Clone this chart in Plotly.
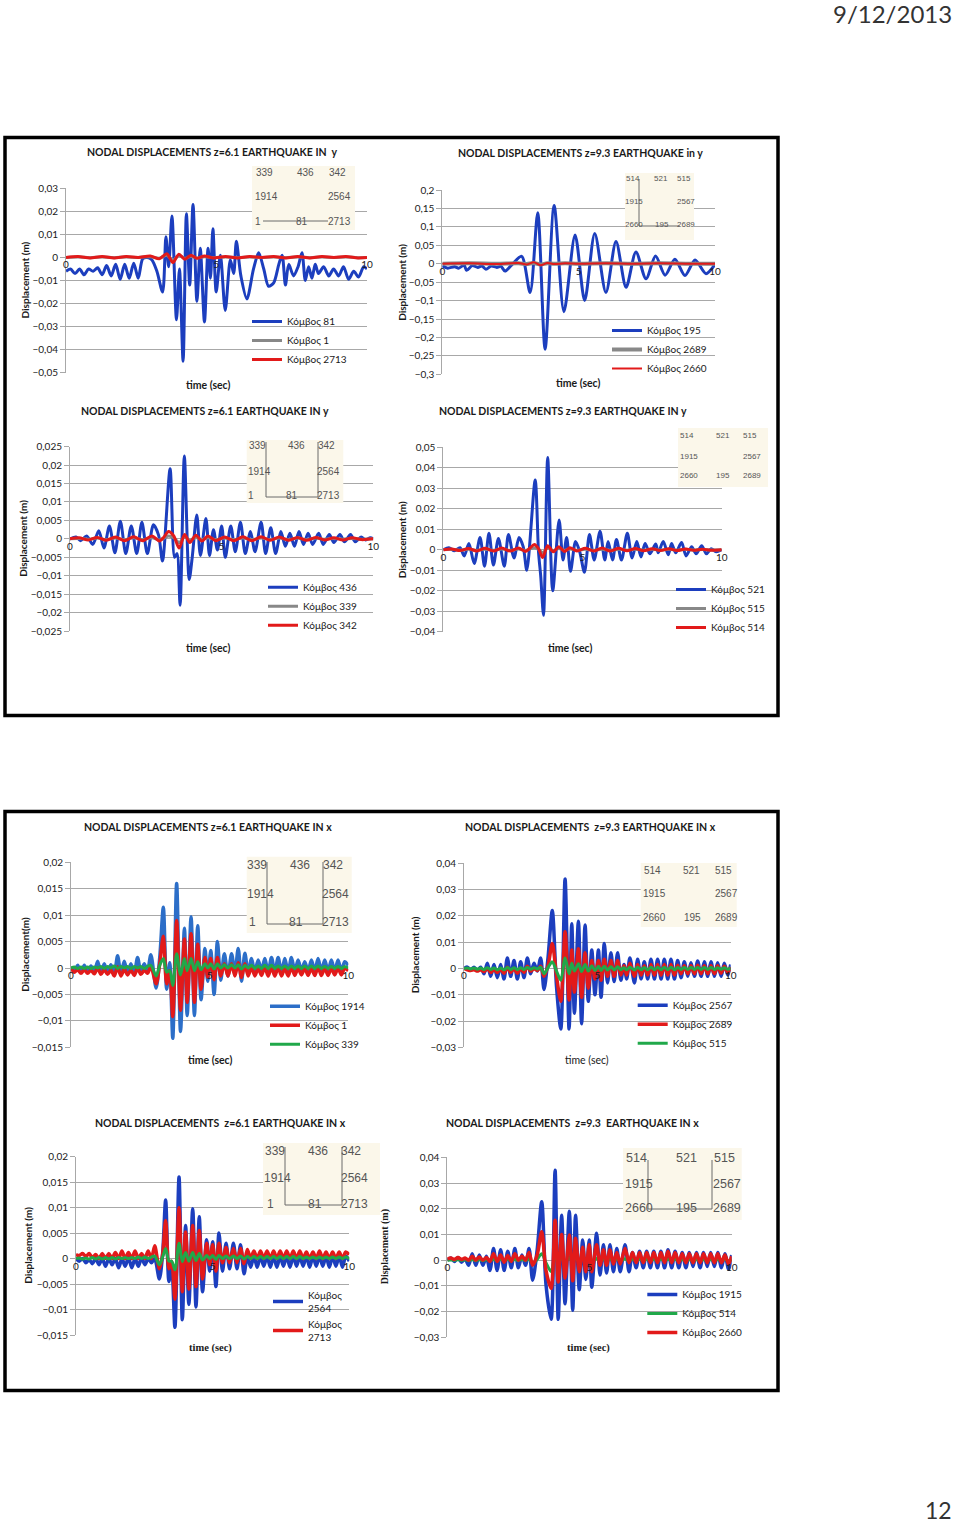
import plotly.graph_objects as go

# ---------------- DATA ----------------
# Chart 1: z=6.1, earthquake in y
T1_81 = [0, 0.15, 0.3, 0.45, 0.6, 0.75, 0.9, 1.05, 1.2, 1.35, 1.5, 1.65, 1.8, 1.95, 2.1, 2.25, 2.4, 2.55, 2.7, 2.85,
         3.02, 3.21, 3.32, 3.41, 3.52, 3.67, 3.77, 3.89, 4.0, 4.11, 4.22, 4.35, 4.46, 4.6, 4.72, 4.8, 4.88, 4.99, 5.13, 5.29,
         5.46, 5.57, 5.66, 5.81, 6.01, 6.23, 6.4, 6.57, 6.73, 6.9, 7.07, 7.18, 7.29, 7.4, 7.56, 7.71, 7.84, 7.95, 8.06, 8.17,
         8.28, 8.39, 8.56, 8.73, 8.89, 9.06, 9.22, 9.39, 9.56, 9.72, 9.89, 10]
V1_81 = [-0.006, -0.005, -0.007, -0.005, -0.0075, -0.005, -0.006, -0.0045, -0.0075, -0.0035, -0.008, -0.003, -0.0095, -0.003, -0.009, -0.0025, -0.009, -0.0005, 0.0, -0.001,
         -0.006, -0.015, 0.009, -0.004, 0.018, -0.027, -0.005, -0.045, 0.019, -0.012, 0.023, -0.019, 0.004, -0.028, 0.004, -0.009, 0.0125, -0.015, 0.001, -0.023,
         -0.001, -0.007, 0.007, -0.008, -0.018, -0.005, 0.002, -0.005, -0.0125, -0.011, -0.003, 0.001, -0.012, -0.003, -0.008, -0.004, 0.002, -0.01, -0.004, -0.009,
         -0.003, -0.007, -0.004, -0.008, -0.005, -0.008, -0.004, -0.0095, -0.006, -0.0085, -0.004, -0.005]
T1_SMALL = [0, 0.4, 0.8, 1.2, 1.6, 2.0, 2.4, 2.8, 3.1, 3.35, 3.55, 3.75, 3.95, 4.15, 4.35, 4.6, 4.9, 5.3, 5.7, 6.1,
            6.5, 6.9, 7.3, 7.7, 8.1, 8.5, 8.9, 9.3, 9.7, 10]
V1_1 = [0, 0.0002, -0.0001, 0.0002, -0.0001, 0.0002, 0.0, 0.0003, -0.0003, 0.001, -0.0012, 0.0008, -0.0004, 0.0005, -0.0002, 0.0003, -0.0001, 0.0002, -0.0001, 0.0002,
        0.0, 0.0002, -0.0001, 0.0002, -0.0001, 0.0002, 0.0, 0.0002, -0.0001, 0.0]
V1_2713 = [0, 0.0004, -0.0002, 0.0004, -0.0002, 0.0004, 0.0, 0.0006, -0.0006, 0.0016, -0.0022, 0.0014, -0.0008, 0.001, -0.0004, 0.0006, -0.0002, 0.0004, -0.0002, 0.0004,
           0.0, 0.0004, -0.0002, 0.0004, -0.0002, 0.0004, 0.0, 0.0004, -0.0002, 0.0]

# Chart 2: z=9.3, earthquake in y
T2_195 = [0, 0.2, 0.45, 0.6, 0.8, 0.89, 1.1, 1.3, 1.45, 1.6, 1.8, 2.0, 2.15, 2.3, 2.55, 2.91, 3.22, 3.5, 3.77, 4.1,
          4.46, 4.87, 5.22, 5.59, 6.0, 6.37, 6.74, 7.1, 7.47, 7.82, 8.17, 8.53, 8.9, 9.27, 9.67, 10]
V2_195 = [-0.006, -0.012, -0.008, -0.012, -0.004, -0.018, -0.005, -0.01, -0.006, -0.015, -0.006, -0.01, -0.007, -0.02, -0.003, 0.02, -0.078, 0.138, -0.232, 0.158,
          -0.13, 0.078, -0.1, 0.082, -0.078, 0.06, -0.064, 0.032, -0.041, 0.021, -0.031, 0.012, -0.032, 0.01, -0.027, -0.002]
T2_SMALL = [0, 1, 2, 2.8, 3.1, 3.35, 3.6, 3.85, 4.1, 4.5, 5, 6, 7, 8, 9, 10]
V2_2689 = [0, 0.001, 0, 0.001, -0.001, 0.002, -0.002, 0.001, 0, 0.001, 0, 0.001, 0, 0.001, 0, 0]
V2_2660 = [0, 0.001, -0.001, 0.002, -0.002, 0.004, -0.004, 0.002, -0.001, 0.001, 0, 0.001, 0, 0.001, 0, 0]

# Chart 3: z=6.1, earthquake in y
T3_436 = [0, 0.2, 0.35, 0.55, 0.75, 0.95, 1.12, 1.3, 1.48, 1.66, 1.84, 2.02, 2.2, 2.37, 2.55, 2.75, 2.92, 3.05, 3.3, 3.45,
          3.53, 3.63, 3.77, 3.93, 4.03, 4.18, 4.3, 4.48, 4.6, 4.73, 4.86, 5.0, 5.12, 5.3, 5.45, 5.62, 5.78, 5.95, 6.1, 6.3,
          6.45, 6.62, 6.78, 6.95, 7.1, 7.25, 7.4, 7.55, 7.7, 7.85, 8.0, 8.2, 8.35, 8.55, 8.7, 8.9, 9.05, 9.25, 9.4, 9.6,
          9.75, 9.9, 10]
V3_436 = [0, 0.0005, -0.0005, 0.0008, -0.0015, 0.0022, -0.0025, 0.0035, -0.0038, 0.0048, -0.004, 0.0035, -0.004, 0.0045, -0.004, 0.0038, 0.001, -0.006, 0.019, -0.005,
          -0.004, -0.018, 0.0225, -0.011, -0.005, 0.0065, -0.0045, 0.0055, -0.0045, 0.0025, -0.003, 0.0035, -0.005, 0.0035, -0.0035, 0.0045, -0.004, 0.002, -0.0035, 0.0045,
          -0.004, 0.003, -0.004, 0.002, -0.002, 0.0015, -0.002, 0.002, -0.0015, 0.0015, -0.0015, 0.0015, -0.0015, 0.0012, -0.001, 0.0012, -0.0008, 0.0012, -0.0008, 0.0005,
          -0.0003, 0.0003, 0]
T3_SMALL = [0, 0.3, 0.6, 0.9, 1.2, 1.5, 1.8, 2.1, 2.4, 2.7, 2.95, 3.1, 3.25, 3.42, 3.6, 3.78, 3.95, 4.15, 4.35, 4.55,
            4.8, 5.1, 5.4, 5.7, 6.0, 6.3, 6.6, 6.9, 7.2, 7.5, 7.8, 8.1, 8.4, 8.7, 9.0, 9.3, 9.6, 10]
V3_339 = [0, 0.0001, -0.0001, 0.0002, -0.0002, 0.0002, -0.0002, 0.0003, -0.0002, 0.0003, -0.0003, 0.0002, 0.0008, 0.0003, -0.001, 0.0005, -0.0004, 0.0004, -0.0002, 0.0003,
          -0.0002, 0.0002, -0.0002, 0.0002, -0.0002, 0.0002, -0.0002, 0.0002, -0.0002, 0.0002, -0.0002, 0.0002, -0.0001, 0.0001, -0.0001, 0.0001, -0.0001, 0]
V3_342 = [0, 0.0003, -0.0003, 0.0004, -0.0004, 0.0005, -0.0005, 0.0006, -0.0005, 0.0008, -0.0006, 0.0005, 0.002, 0.0008, -0.0025, 0.0012, -0.001, 0.001, -0.0006, 0.0008,
          -0.0005, 0.0005, -0.0005, 0.0006, -0.0005, 0.0006, -0.0004, 0.0005, -0.0004, 0.0004, -0.0004, 0.0004, -0.0003, 0.0003, -0.0003, 0.0003, -0.0002, 0]

# Chart 4: z=9.3, earthquake in y
T4_521 = [0, 0.2, 0.4, 0.6, 0.75, 0.92, 1.11, 1.32, 1.48, 1.64, 1.8, 1.98, 2.19, 2.34, 2.54, 2.72, 2.87, 3.0, 3.3, 3.42,
          3.5, 3.6, 3.75, 3.93, 4.16, 4.3, 4.43, 4.57, 4.75, 4.9, 5.07, 5.25, 5.42, 5.63, 5.8, 5.92, 6.08, 6.22, 6.4, 6.61,
          6.78, 6.95, 7.1, 7.25, 7.42, 7.63, 7.72, 7.9, 8.08, 8.2, 8.35, 8.56, 8.72, 8.92, 9.08, 9.28, 9.45, 9.62, 9.8, 10]
V4_521 = [0, 0.001, -0.0005, 0.001, -0.003, 0.003, -0.0067, 0.006, -0.008, 0.008, -0.0075, 0.0055, -0.008, 0.0075, -0.004, 0.006, 0.0015, -0.01, 0.034, -0.001,
          -0.013, -0.032, 0.045, -0.02, 0.0145, -0.005, 0.006, -0.0105, 0.004, -0.001, -0.011, 0.0075, -0.005, 0.009, -0.005, 0.004, -0.005, 0.005, -0.005, 0.008,
          -0.004, 0.004, -0.0035, 0.003, -0.002, 0.0028, -0.0015, 0.004, -0.0025, 0.003, -0.0015, 0.0035, -0.003, 0.0015, -0.002, 0.002, -0.002, 0.0005, -0.001, 0]
T4_SMALL = [0, 0.3, 0.6, 0.9, 1.2, 1.5, 1.8, 2.1, 2.4, 2.7, 2.95, 3.1, 3.27, 3.42, 3.57, 3.75, 3.95, 4.15, 4.35, 4.55,
            4.8, 5.1, 5.4, 5.7, 6.0, 6.3, 6.6, 6.9, 7.2, 7.5, 7.8, 8.1, 8.4, 8.7, 9.0, 9.3, 9.6, 10]
V4_515 = [0, 0.0002, -0.0002, 0.0003, -0.0003, 0.0003, -0.0003, 0.0004, -0.0003, 0.0004, -0.0004, 0.0003, 0.001, 0.0002, -0.0015, 0.0008, -0.0004, 0.0006, -0.0003, 0.0004,
          -0.0003, 0.0003, -0.0003, 0.0003, -0.0003, 0.0003, -0.0002, 0.0003, -0.0002, 0.0002, -0.0002, 0.0002, -0.0002, 0.0002, -0.0001, 0.0001, -0.0001, 0]
V4_514 = [0, 0.0004, -0.0004, 0.0006, -0.0006, 0.0007, -0.0006, 0.0008, -0.0006, 0.0008, -0.0008, 0.0006, 0.0025, 0.0005, -0.0038, 0.002, -0.001, 0.0015, -0.0008, 0.001,
          -0.0006, 0.0007, -0.0006, 0.0008, -0.0006, 0.0007, -0.0005, 0.0006, -0.0005, 0.0005, -0.0004, 0.0005, -0.0004, 0.0004, -0.0003, 0.0003, -0.0002, 0]

# Chart 5: z=6.1, earthquake in x
T5 = [0, 0.12, 0.24, 0.36, 0.48, 0.6, 0.72, 0.84, 0.96, 1.08, 1.2, 1.32, 1.44, 1.56, 1.68, 1.8, 1.92, 2.04, 2.16, 2.28, 2.4, 2.52, 2.64, 2.76, 2.88,
      3.07, 3.2, 3.33, 3.45, 3.56, 3.67, 3.81, 3.95, 4.09, 4.19, 4.33, 4.45, 4.57, 4.69, 4.83, 4.93, 5.04, 5.16, 5.28, 5.4, 5.53, 5.66, 5.79, 5.91, 6.03, 6.15, 6.27, 6.39,
      6.51, 6.63, 6.75, 6.87, 6.99, 7.11, 7.23, 7.35, 7.47, 7.59, 7.71, 7.83, 7.95, 8.07, 8.19, 8.31, 8.43, 8.55, 8.67, 8.79, 8.91, 9.03, 9.15, 9.27, 9.39, 9.51, 9.63, 9.75, 9.87, 10.0]
V5_1914 = [0, -0.0005, 0.0005, -0.0008, 0.0005, -0.0008, 0.0004, -0.0008, 0.0013, -0.001, 0.0008, -0.001, 0.0006, -0.0012, 0.0023, -0.0012, 0.0013, -0.001, 0.0008, -0.0012, 0.002, -0.0008, 0.0008, -0.0005, 0.0025,
           -0.0038, 0.002, 0.0115, -0.004, 0.001, -0.0133, 0.016, -0.012, 0.0075, -0.009, 0.0097, -0.009, 0.008, -0.006, 0.0037, -0.0025, 0.0033, -0.005, 0.005, -0.0023, 0.0027, -0.0015, 0.0027, -0.001, 0.0037, -0.0025, 0.0028, -0.001,
           0.0018, -0.0008, 0.0015, -0.0005, 0.0018, -0.0008, 0.002, -0.0008, 0.002, -0.0008, 0.0018, -0.0008, 0.002, -0.0006, 0.0015, -0.0005, 0.0012, -0.0006, 0.0015, -0.0006, 0.0018, -0.0006, 0.0015, -0.0006, 0.0015, -0.0006, 0.0015, -0.0006, 0.0012, 0.0005]
V5_1 = [0, -0.0008, -0.0003, -0.001, -0.0003, -0.001, -0.0004, -0.0011, 0.0, -0.0012, -0.0003, -0.0012, -0.0004, -0.0015, 0.0002, -0.0015, -0.0002, -0.0013, -0.0004, -0.0014, 0.0, -0.0012, -0.0004, -0.001, 0.0003,
        -0.003, 0.0008, 0.006, -0.003, -0.0005, -0.0092, 0.009, -0.008, 0.0055, -0.0065, 0.0065, -0.0065, 0.0045, -0.004, 0.002, -0.0017, 0.0018, -0.0022, 0.002, -0.0015, 0.0008, -0.0015, 0.0008, -0.0015, 0.001, -0.0018, 0.0008, -0.0015,
        0.0002, -0.0015, 0.0, -0.0014, 0.0002, -0.0015, 0.0002, -0.0015, 0.0002, -0.0015, 0.0, -0.0015, 0.0002, -0.0014, 0.0, -0.0013, 0.0, -0.0014, 0.0, -0.0014, 0.0002, -0.0014, 0.0, -0.0014, 0.0, -0.0013, 0.0, -0.0013, 0.0, -0.0005]
V5_339 = [0, 0.0002, -0.0001, 0.0002, -0.0001, 0.0002, -0.0001, 0.0002, 0.0, 0.0003, -0.0001, 0.0003, 0.0, 0.0004, -0.0001, 0.0003, 0.0, 0.0003, -0.0001, 0.0003, 0.0, 0.0003, -0.0001, 0.0003, 0.0005,
          -0.0015, 0.0005, 0.0018, -0.0008, -0.0005, -0.0033, 0.0027, -0.0013, 0.0018, -0.0005, 0.0018, -0.0005, 0.0012, -0.0003, 0.0008, 0.0, 0.0008, -0.0002, 0.0008, 0.0, 0.0006, 0.0, 0.0006, 0.0, 0.0006, -0.0002, 0.0005, 0.0,
          0.0005, -0.0001, 0.0004, -0.0001, 0.0005, -0.0001, 0.0005, -0.0001, 0.0004, -0.0001, 0.0004, -0.0001, 0.0004, -0.0001, 0.0004, -0.0001, 0.0004, -0.0001, 0.0004, -0.0001, 0.0004, -0.0001, 0.0003, -0.0001, 0.0003, -0.0001, 0.0003, -0.0001, 0.0003, 0.0]

# Chart 6: z=9.3, earthquake in x
T6 = [0, 0.125, 0.25, 0.375, 0.5, 0.625, 0.75, 0.875, 1.0, 1.125, 1.25, 1.375, 1.5, 1.625, 1.75, 1.875, 2.0, 2.125, 2.25, 2.375, 2.5, 2.625, 2.75, 2.875,
      3.0, 3.15, 3.31, 3.47, 3.63, 3.79, 3.94, 4.04, 4.14, 4.29, 4.41, 4.54, 4.66, 4.79, 4.91, 5.04, 5.14, 5.26, 5.38, 5.51, 5.63, 5.76, 5.88, 6.0, 6.1, 6.22, 6.39,
      6.51, 6.64, 6.76, 6.89, 7.01, 7.14, 7.26, 7.39, 7.51, 7.64, 7.76, 7.89, 8.01, 8.14, 8.26, 8.39, 8.51, 8.64, 8.76, 8.89, 9.01, 9.14, 9.26, 9.39, 9.51, 9.64, 9.76, 9.89, 10.0]
V6_2567 = [0, 0.0005, -0.0005, 0.0005, -0.0008, 0.0005, -0.002, 0.002, -0.003, 0.0015, -0.0035, 0.0015, -0.004, 0.004, -0.003, 0.003, -0.004, 0.0025, -0.0035, 0.004, -0.002, 0.002, -0.001, 0.004,
           -0.008, 0.004, 0.022, -0.007, -0.023, 0.034, -0.023, 0.017, -0.017, 0.018, -0.021, 0.0165, -0.0125, 0.007, -0.01, 0.007, -0.011, 0.0095, -0.0055, 0.006, -0.005, 0.006, -0.0045, 0.0015, -0.004, 0.004, -0.0055,
           0.0035, -0.004, 0.0025, -0.004, 0.0035, -0.004, 0.0035, -0.004, 0.0035, -0.004, 0.0035, -0.004, 0.003, -0.0035, 0.0025, -0.003, 0.0022, -0.003, 0.0028, -0.003, 0.0025, -0.003, 0.0025, -0.003, 0.0022, -0.003, 0.002, -0.0025, 0.0015]
V6_2689 = [0, -0.0005, -0.0008, -0.0005, -0.001, -0.0005, -0.0012, 0.0, -0.0015, -0.0003, -0.0015, -0.0003, -0.0018, 0.0005, -0.0015, 0.0, -0.0018, 0.0, -0.0015, 0.0008, -0.001, 0.0, -0.0008, 0.0008,
           -0.003, 0.001, 0.0095, -0.003, -0.0125, 0.014, -0.012, 0.007, -0.009, 0.0075, -0.011, 0.006, -0.0075, 0.003, -0.004, 0.003, -0.0045, 0.0035, -0.003, 0.003, -0.003, 0.003, -0.0025, 0.001, -0.0025, 0.002, -0.003,
           0.0015, -0.0025, 0.001, -0.0025, 0.0015, -0.0025, 0.0015, -0.0025, 0.0015, -0.0025, 0.0015, -0.0025, 0.0012, -0.002, 0.001, -0.002, 0.001, -0.002, 0.0012, -0.002, 0.001, -0.002, 0.001, -0.002, 0.001, -0.0018, 0.0008, -0.0015, 0.0005]
V6_515 = [0, 0.0002, -0.0002, 0.0002, -0.0003, 0.0002, -0.0004, 0.0003, -0.0004, 0.0002, -0.0005, 0.0002, -0.0005, 0.0004, -0.0004, 0.0003, -0.0005, 0.0003, -0.0004, 0.0004, -0.0003, 0.0003, -0.0002, 0.0005,
          -0.002, 0.0003, 0.0025, -0.001, -0.0045, 0.004, -0.002, 0.002, -0.001, 0.0018, -0.0012, 0.0015, -0.001, 0.001, -0.0008, 0.0008, -0.0008, 0.0008, -0.0006, 0.0006, -0.0006, 0.0006, -0.0005, 0.0003, -0.0005, 0.0005, -0.0006,
          0.0005, -0.0005, 0.0004, -0.0005, 0.0005, -0.0005, 0.0005, -0.0005, 0.0005, -0.0005, 0.0005, -0.0005, 0.0004, -0.0004, 0.0004, -0.0004, 0.0004, -0.0004, 0.0004, -0.0004, 0.0004, -0.0004, 0.0004, -0.0004, 0.0003, -0.0003, 0.0003, -0.0003, 0.0002]

# Chart 7: z=6.1, earthquake in x
T7 = [0, 0.12, 0.24, 0.36, 0.48, 0.6, 0.72, 0.84, 0.96, 1.08, 1.2, 1.32, 1.44, 1.56, 1.68, 1.8, 1.92, 2.04, 2.16, 2.28, 2.4, 2.52, 2.64, 2.76, 2.88,
      3.05, 3.17, 3.28, 3.4, 3.5, 3.62, 3.77, 3.89, 4.01, 4.13, 4.27, 4.39, 4.51, 4.63, 4.78, 4.89, 5.0, 5.12, 5.23, 5.36, 5.49, 5.62, 5.76, 5.89, 6.02, 6.15, 6.27, 6.39,
      6.51, 6.63, 6.75, 6.87, 6.99, 7.11, 7.23, 7.35, 7.47, 7.59, 7.71, 7.83, 7.95, 8.07, 8.19, 8.31, 8.43, 8.55, 8.67, 8.79, 8.91, 9.03, 9.15, 9.27, 9.39, 9.51, 9.63, 9.75, 9.87, 10.0]
V7_2564 = [0, -0.0005, 0.0, -0.0008, -0.0002, -0.001, 0.0, -0.0012, 0.0, -0.0015, 0.0, -0.0012, 0.0, -0.0018, 0.0, -0.0015, 0.0002, -0.0018, 0.0, -0.0015, 0.0002, -0.0012, 0.0, -0.0008, 0.0,
           -0.004, 0.001, 0.0115, -0.0045, -0.001, -0.0135, 0.016, -0.012, 0.0065, -0.009, 0.0098, -0.0095, 0.0082, -0.0065, 0.0037, -0.0025, 0.0033, -0.0055, 0.005, -0.0025, 0.003, -0.002, 0.003, -0.002, 0.0027, -0.003, 0.0005, -0.0017,
           0.0005, -0.0017, 0.0005, -0.0015, 0.0005, -0.0017, 0.0005, -0.0017, 0.0005, -0.0015, 0.0005, -0.0017, 0.0005, -0.0015, 0.0005, -0.0015, 0.0005, -0.0017, 0.0005, -0.0015, 0.0005, -0.0015, 0.0005, -0.0017, 0.0005, -0.0015, 0.0005, -0.0017, 0.0005, -0.0005]
V7_2713 = [0.0008, 0.0006, 0.001, 0.0004, 0.001, 0.0002, 0.0008, 0.0, 0.001, 0.0, 0.001, 0.0, 0.0012, 0.0, 0.0015, 0.0, 0.0012, 0.0, 0.0015, 0.0, 0.001, 0.0, 0.0015, 0.0, 0.0025,
           -0.002, 0.0008, 0.0075, -0.002, -0.0005, -0.008, 0.01, -0.0065, 0.0052, -0.006, 0.0065, -0.0055, 0.0055, -0.004, 0.003, -0.0012, 0.0027, -0.0025, 0.003, -0.0008, 0.0022, -0.0008, 0.002, -0.0008, 0.002, -0.001, 0.0018, 0.0,
           0.0015, 0.0, 0.0015, 0.0, 0.0015, 0.0, 0.0015, 0.0, 0.0015, 0.0, 0.0015, 0.0, 0.0015, 0.0, 0.0015, 0.0, 0.0013, 0.0, 0.0013, 0.0, 0.0015, 0.0, 0.0013, 0.0, 0.0013, 0.0, 0.0013, 0.0, 0.0013, 0.0008]
V7_GREEN = [0.0, 0.0001, -0.0001, 0.0001, -0.0001, 0.0002, -0.0001, 0.0002, -0.0001, 0.0002, -0.0001, 0.0002, -0.0001, 0.0002, 0.0, 0.0002, 0.0, 0.0002, 0.0, 0.0003, 0.0, 0.0003, 0.0, 0.0003, 0.0005,
            -0.0012, 0.0003, 0.002, -0.0005, -0.0005, -0.0022, 0.003, -0.0006, 0.0012, -0.0005, 0.0012, -0.0004, 0.001, -0.0003, 0.0006, 0.0, 0.0006, -0.0002, 0.0006, 0.0, 0.0005, 0.0, 0.0005, 0.0, 0.0005, -0.0001, 0.0004, 0.0,
            0.0004, 0.0, 0.0004, 0.0, 0.0004, 0.0, 0.0004, 0.0, 0.0004, 0.0, 0.0004, 0.0, 0.0004, 0.0, 0.0004, 0.0, 0.0003, 0.0, 0.0003, 0.0, 0.0003, 0.0, 0.0003, 0.0, 0.0003, 0.0, 0.0003, 0.0, 0.0003, 0.0]

# Chart 8: z=9.3, earthquake in x
T8 = [0, 0.125, 0.25, 0.375, 0.5, 0.625, 0.75, 0.875, 1.0, 1.125, 1.25, 1.375, 1.5, 1.625, 1.75, 1.875, 2.0, 2.125, 2.25, 2.375, 2.5, 2.625, 2.75, 2.875,
      3.0, 3.16, 3.32, 3.47, 3.65, 3.79, 3.9, 4.02, 4.14, 4.29, 4.41, 4.51, 4.64, 4.76, 4.87, 4.99, 5.08, 5.25, 5.37, 5.49, 5.6, 5.72, 5.84, 5.96, 6.08, 6.25, 6.39,
      6.51, 6.64, 6.76, 6.89, 7.01, 7.14, 7.26, 7.39, 7.51, 7.64, 7.76, 7.89, 8.01, 8.14, 8.26, 8.39, 8.51, 8.64, 8.76, 8.89, 9.01, 9.14, 9.26, 9.39, 9.51, 9.64, 9.76, 9.89, 10.0]
V8_1915 = [0, 0.0008, -0.0005, 0.001, -0.0008, 0.0005, -0.002, 0.0025, -0.002, 0.002, -0.002, 0.0015, -0.004, 0.0045, -0.004, 0.004, -0.004, 0.0035, -0.003, 0.0045, -0.003, 0.002, -0.002, 0.0045,
           -0.0078, 0.004, 0.0227, -0.0095, -0.023, 0.035, -0.023, 0.0175, -0.017, 0.019, -0.0195, 0.0175, -0.0115, 0.0078, -0.0075, 0.0078, -0.0105, 0.0105, -0.0058, 0.006, -0.005, 0.006, -0.0045, 0.0045, -0.0045, 0.006, -0.0045,
           0.003, -0.003, 0.0035, -0.003, 0.0035, -0.003, 0.0035, -0.003, 0.0035, -0.003, 0.004, -0.003, 0.0035, -0.003, 0.003, -0.003, 0.003, -0.0025, 0.003, -0.003, 0.003, -0.0025, 0.003, -0.0025, 0.003, -0.003, 0.0025, -0.0035, 0.002]
V8_514 = [0, 0.0001, -0.0001, 0.0002, -0.0001, 0.0002, -0.0002, 0.0003, -0.0002, 0.0003, -0.0002, 0.0003, -0.0003, 0.0004, -0.0003, 0.0004, -0.0003, 0.0004, -0.0003, 0.0004, -0.0002, 0.0003, -0.0002, 0.0005,
          -0.0015, 0.0003, 0.0025, -0.001, -0.0045, 0.002, -0.0015, 0.0012, -0.001, 0.0012, -0.001, 0.001, -0.0008, 0.0008, -0.0006, 0.0006, -0.0006, 0.0006, -0.0005, 0.0005, -0.0005, 0.0005, -0.0004, 0.0004, -0.0004, 0.0005, -0.0004,
          0.0004, -0.0003, 0.0004, -0.0003, 0.0004, -0.0003, 0.0004, -0.0003, 0.0004, -0.0003, 0.0004, -0.0003, 0.0004, -0.0003, 0.0003, -0.0003, 0.0003, -0.0003, 0.0003, -0.0003, 0.0003, -0.0003, 0.0003, -0.0003, 0.0003, -0.0002, 0.0003, -0.0002, 0.0002]
V8_2660 = [0.0005, 0.0008, 0.0003, 0.001, 0.0003, 0.0008, 0.0, 0.0015, 0.0, 0.0012, 0.0, 0.001, -0.0005, 0.0025, -0.0005, 0.002, -0.0008, 0.0018, -0.0005, 0.0025, 0.0, 0.0015, 0.0, 0.003,
           -0.002, 0.002, 0.011, -0.004, -0.011, 0.0155, -0.0085, 0.01, -0.007, 0.0098, -0.008, 0.0085, -0.0045, 0.005, -0.0045, 0.006, -0.0045, 0.006, -0.002, 0.004, -0.002, 0.004, -0.0015, 0.003, -0.0015, 0.0045, -0.001,
           0.003, -0.001, 0.003, -0.001, 0.003, -0.001, 0.003, -0.001, 0.003, -0.001, 0.0035, -0.001, 0.003, -0.001, 0.0025, -0.001, 0.0025, -0.001, 0.0025, -0.001, 0.0025, -0.001, 0.0025, -0.001, 0.0025, -0.001, 0.002, -0.0015, 0.0015]

# ---------------- STYLE ----------------
W, H = 960, 1527
FONT = "Lato, 'Noto Sans', sans-serif"
SERIF = "'Liberation Serif', 'DejaVu Serif', serif"
NARROW = "'Liberation Sans Narrow', 'Liberation Sans', sans-serif"
TXT = "#1a1a1a"
BLUE = "#1C3EBE"
BLUE_L = "#2C6EC8"
RED = "#E21A1A"
GRAY = "#888888"
GREEN = "#20A84A"
GRID = "#A8A8A8"


def px(x):
    return x / W


def py(y):
    return 1 - y / H


ROW1 = ["339", "436", "342"]
ROW2 = ["1914", "2564"]
ROW3 = ["1", "81", "2713"]
ROW1B = ["514", "521", "515"]
ROW2B = ["1915", "2567"]
ROW3B = ["2660", "195", "2689"]


def inset_labels(rows, xs, ys):
    out = []
    r1, r2, r3 = rows
    out += [(r1[0], xs[0], ys[0]), (r1[1], xs[1], ys[0]), (r1[2], xs[2], ys[0])]
    out += [(r2[0], xs[3], ys[1]), (r2[1], xs[4], ys[1])]
    out += [(r3[0], xs[5], ys[2]), (r3[1], xs[6], ys[2]), (r3[2], xs[7], ys[2])]
    return out


charts = [
    dict(box=(66, 367, 188.3, 372.7), yr=(-0.05, 0.03), dt=0.01,
         title="NODAL DISPLACEMENTS z=6.1 EARTHQUAKE IN&nbsp; y", title_xy=(212, 152),
         ytitle="Displacement (m)", ytx=25, ytfont=FONT,
         xtitle="time (sec)", xt_xy=(208, 385), xtfont=FONT, xtbold=True,
         leg=(287, 317),
         series=[("Κόμβος 81", T1_81, V1_81, BLUE, 3, True), ("Κόμβος 1", T1_SMALL, V1_1, GRAY, 3, True),
                 ("Κόμβος 2713", T1_SMALL, V1_2713, RED, 3, True)],
         inset=dict(box=(252, 355, 166, 230), size=10,
                    labels=inset_labels((ROW1, ROW2, ROW3), [264, 305, 337, 266, 339, 258, 302, 339], [173, 197, 221]),
                    lines=[(263, 221, 328, 221)])),
    dict(box=(442.3, 715, 190, 374.3), yr=(-0.3, 0.2), dt=0.05,
         title="NODAL DISPLACEMENTS z=9.3 EARTHQUAKE in y", title_xy=(580, 153),
         ytitle="Displacement (m)", ytx=401.7, ytfont=FONT,
         xtitle="time (sec)", xt_xy=(578, 383), xtfont=FONT, xtbold=True,
         leg=(647, 326),
         series=[("Κόμβος 195", T2_195, V2_195, BLUE, 3, True), ("Κόμβος 2689", T2_SMALL, V2_2689, GRAY, 4, True),
                 ("Κόμβος 2660", T2_SMALL, V2_2660, RED, 2, True)],
         inset=dict(box=(625, 694, 173, 240), size=8,
                    labels=inset_labels((ROW1B, ROW2B, ROW3B), [633, 661, 684, 634, 686, 634, 662, 686], [178, 202, 225]),
                    lines=[(639, 179, 639, 226), (639, 226, 680, 226)])),
    dict(box=(70, 373.3, 446.7, 631), yr=(-0.025, 0.025), dt=0.005,
         title="NODAL DISPLACEMENTS z=6.1 EARTHQUAKE IN y", title_xy=(205, 411),
         ytitle="Displacement (m)", ytx=23, ytfont=FONT,
         xtitle="time (sec)", xt_xy=(208, 648), xtfont=FONT, xtbold=True,
         leg=(303, 582.7),
         series=[("Κόμβος 436", T3_436, V3_436, BLUE, 3, True), ("Κόμβος 339", T3_SMALL, V3_339, GRAY, 3, True),
                 ("Κόμβος 342", T3_SMALL, V3_342, RED, 3, True)],
         inset=dict(box=(246.7, 343.3, 440, 503), size=10,
                    labels=inset_labels((ROW1, ROW2, ROW3), [257, 296, 326, 259, 328, 251, 292, 328], [445, 471, 495]),
                    lines=[(266, 442, 266, 497), (266, 497, 318, 497), (318, 442, 318, 497)])),
    dict(box=(443.3, 721.7, 447.3, 631.7), yr=(-0.04, 0.05), dt=0.01,
         title="NODAL DISPLACEMENTS z=9.3 EARTHQUAKE IN y", title_xy=(563, 411),
         ytitle="Displacement (m)", ytx=401.7, ytfont=FONT,
         xtitle="time (sec)", xt_xy=(570, 648), xtfont=FONT, xtbold=True,
         leg=(711, 585),
         series=[("Κόμβος 521", T4_521, V4_521, BLUE, 3, True), ("Κόμβος 515", T4_SMALL, V4_515, GRAY, 3, True),
                 ("Κόμβος 514", T4_SMALL, V4_514, RED, 3, True)],
         inset=dict(box=(678, 768, 428, 487), size=8,
                    labels=inset_labels((ROW1B, ROW2B, ROW3B), [687, 723, 750, 689, 752, 689, 723, 752], [435, 456, 476]),
                    lines=[])),
    dict(box=(71, 348.3, 862.3, 1047.3), yr=(-0.015, 0.02), dt=0.005,
         title="NODAL DISPLACEMENTS z=6.1 EARTHQUAKE IN x", title_xy=(208, 826.7),
         ytitle="Displacement(m)", ytx=25, ytfont=FONT,
         xtitle="time (sec)", xt_xy=(210, 1060), xtfont=FONT, xtbold=True,
         leg=(305, 1001.7),
         series=[("Κόμβος 1914", T5, V5_1914, BLUE_L, 3.5, True), ("Κόμβος 1", T5, V5_1, RED, 3.5, True),
                 ("Κόμβος 339", T5, V5_339, GREEN, 3, True)],
         inset=dict(box=(246.7, 351.7, 856.7, 933), size=12,
                    labels=inset_labels((ROW1, ROW2, ROW3), [257, 300, 333, 260, 335, 252, 296, 335], [865, 894, 922]),
                    lines=[(267, 862, 267, 924), (267, 924, 323, 924), (323, 862, 323, 924)])),
    dict(box=(464, 730.7, 863.3, 1047.3), yr=(-0.03, 0.04), dt=0.01,
         title="NODAL DISPLACEMENTS&nbsp; z=9.3 EARTHQUAKE IN x", title_xy=(590, 826.7),
         ytitle="Displacement (m)", ytx=415, ytfont=FONT,
         xtitle="time (sec)", xt_xy=(587, 1060), xtfont=FONT, xtbold=False,
         leg=(672.7, 1000.7),
         series=[("Κόμβος 2567", T6, V6_2567, BLUE, 3.5, True), ("Κόμβος 2689", T6, V6_2689, RED, 3.5, True),
                 ("Κόμβος 515", T6, V6_515, GREEN, 3, True)],
         inset=dict(box=(640.7, 736.7, 863, 927), size=10,
                    labels=inset_labels((ROW1B, ROW2B, ROW3B), [652, 691, 723, 654, 726, 654, 692, 726], [870, 894, 917]),
                    lines=[])),
    dict(box=(76, 349.3, 1156.7, 1335), yr=(-0.015, 0.02), dt=0.005,
         title="NODAL DISPLACEMENTS&nbsp; z=6.1 EARTHQUAKE IN x", title_xy=(220, 1123),
         ytitle="Displacement (m)", ytx=28, ytfont=FONT,
         xtitle="time (sec)", xt_xy=(210, 1348), xtfont=SERIF, xtbold=True,
         leg=(308, 1292),
         series=[("Κόμβος<br>2564", T7, V7_2564, BLUE, 3.5, True), ("Κόμβος<br>2713", T7, V7_2713, RED, 3.5, True),
                 ("Κόμβος 339", T7, V7_GREEN, GREEN, 3, False)],
         inset=dict(box=(263, 380, 1143, 1215), size=12,
                    labels=inset_labels((ROW1, ROW2, ROW3), [275, 318, 351, 277, 354, 270, 315, 354], [1151, 1178, 1204]),
                    lines=[(285, 1147, 285, 1205), (285, 1205, 342, 1205), (342, 1147, 342, 1205)])),
    dict(box=(447.3, 731.7, 1157.3, 1337.3), yr=(-0.03, 0.04), dt=0.01,
         title="NODAL DISPLACEMENTS&nbsp; z=9.3&nbsp; EARTHQUAKE IN x", title_xy=(572, 1123),
         ytitle="Displacement (m)", ytx=385, ytfont=SERIF,
         xtitle="time (sec)", xt_xy=(588, 1347.7), xtfont=SERIF, xtbold=True,
         leg=(682.3, 1290),
         series=[("Κόμβος 1915", T8, V8_1915, BLUE, 3.5, True), ("Κόμβος 514", T8, V8_514, GREEN, 3, True),
                 ("Κόμβος 2660", T8, V8_2660, RED, 3.5, True)],
         inset=dict(box=(623, 741.7, 1148, 1220), size=12.5,
                    labels=inset_labels((ROW1B, ROW2B, ROW3B), [636, 686, 724, 639, 727, 639, 686, 727], [1158, 1184, 1208]),
                    lines=[(648, 1160, 648, 1209), (648, 1209, 712, 1209), (712, 1160, 712, 1209)])),
]

fig = go.Figure()
shapes = []
annotations = []
layout = {}


def note(x, y, text, font, **kw):
    d = dict(x=px(x), y=py(y), xref="paper", yref="paper", showarrow=False, text=text, font=font,
             xanchor="center", yanchor="middle")
    d.update(kw)
    annotations.append(d)


for i, c in enumerate(charts, start=1):
    sfx = "" if i == 1 else str(i)
    x0, x1, yt, yb = c["box"]
    ymin, ymax = c["yr"]
    yd = [py(yb), py(yt)]
    zero_pos = yd[0] + (0 - ymin) / (ymax - ymin) * (yd[1] - yd[0])
    legname = "legend" + sfx

    for (name, t, v, color, width, showleg) in c["series"]:
        assert len(t) == len(v), (name, len(t), len(v))
        fig.add_trace(go.Scatter(
            x=t, y=v, mode="lines", name=name,
            line=dict(color=color, width=width, shape="spline", smoothing=0.8),
            xaxis="x" + sfx, yaxis="y" + sfx, legend=legname, showlegend=showleg,
            hoverinfo="skip"))

    layout["xaxis" + sfx] = dict(
        domain=[px(x0), px(x1)], range=[0, 10], dtick=5, tick0=0,
        anchor="free", position=zero_pos, showgrid=False, zeroline=False, showline=False,
        ticks="", tickfont=dict(family=FONT, size=10, color=TXT), automargin=False)
    layout["yaxis" + sfx] = dict(
        domain=yd, range=[ymin, ymax], dtick=c["dt"], tick0=0, anchor="x" + sfx,
        showgrid=True, gridcolor=GRID, gridwidth=1, zeroline=False,
        showline=True, linecolor=GRID, linewidth=1, ticks="outside", ticklen=5, tickcolor=GRID,
        tickfont=dict(family=FONT, size=10, color=TXT), automargin=False)

    lx, ly = c["leg"]
    layout[legname] = dict(
        x=px(lx - 40), y=py(ly - 10), xanchor="left", yanchor="top",
        bgcolor="rgba(0,0,0,0)", borderwidth=0, tracegroupgap=0,
        font=dict(family=FONT, size=10, color=TXT))

    tx, ty = c["title_xy"]
    note(tx, ty, "<b>" + c["title"] + "</b>", dict(family=FONT, size=10.5, color=TXT))
    note(c["ytx"], (yt + yb) / 2, "<b>" + c["ytitle"] + "</b>", dict(family=c["ytfont"], size=10, color=TXT),
         textangle=-90)
    xtx, xty = c["xt_xy"]
    xt_text = ("<b>" + c["xtitle"] + "</b>") if c["xtbold"] else c["xtitle"]
    note(xtx, xty, xt_text, dict(family=c["xtfont"], size=10.5, color=TXT))

    # inset sketch of node positions
    ins = c["inset"]
    bx0, bx1, by0, by1 = ins["box"]
    shapes.append(dict(type="rect", xref="paper", yref="paper", x0=px(bx0), x1=px(bx1), y0=py(by1), y1=py(by0),
                       fillcolor="#FBF7EA", line=dict(width=0), layer="above"))
    for (lx0, ly0, lx1, ly1) in ins["lines"]:
        shapes.append(dict(type="line", xref="paper", yref="paper", x0=px(lx0), x1=px(lx1), y0=py(ly0), y1=py(ly1),
                           line=dict(color="#6a6a6a", width=1), layer="above"))
    for (txt, ax, ay) in ins["labels"]:
        note(ax, ay, txt, dict(family=NARROW, size=ins["size"], color="#555555"))

# frames around the two groups of charts
for (top, bot) in [(137.5, 715.5), (811.5, 1390.5)]:
    shapes.append(dict(type="rect", xref="paper", yref="paper", x0=px(5), x1=px(778), y0=py(bot), y1=py(top),
                       line=dict(color="black", width=3.5), fillcolor="rgba(0,0,0,0)", layer="above"))

# slide header / footer
note(954, 13, "9/12/2013", dict(family=FONT, size=24, color="#333333"), xanchor="right")
note(954, 1510, "12", dict(family=FONT, size=23, color="#333333"), xanchor="right")

fig.update_layout(
    width=W, height=H, margin=dict(l=0, r=0, t=0, b=0), autosize=False,
    paper_bgcolor="white", plot_bgcolor="white", template="none",
    separators=", ", showlegend=True, shapes=shapes, annotations=annotations, **layout)

fig.write_html("out.html", config={"displayModeBar": False, "staticPlot": True},
               post_script="document.body.style.margin='0';document.body.style.overflow='hidden';")
